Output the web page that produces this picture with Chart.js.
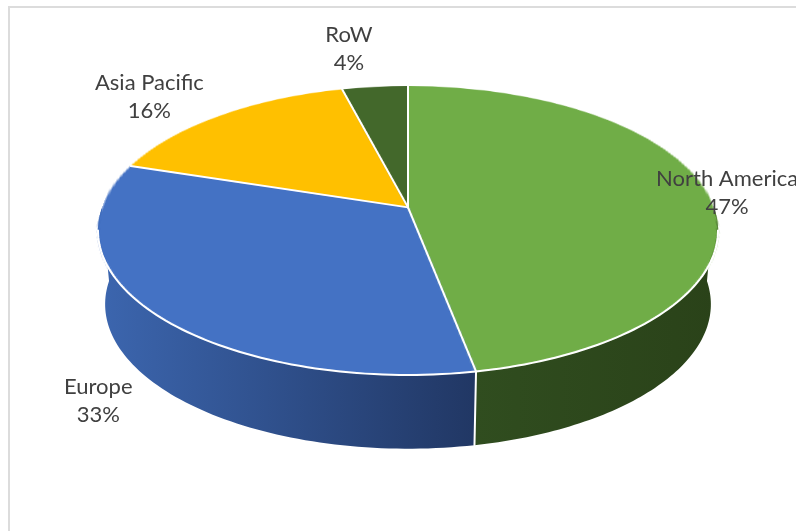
<!DOCTYPE html>
<html>
<head>
<meta charset="utf-8">
<script src="https://cdn.jsdelivr.net/npm/chart.js@4"></script>
<style>
  html, body { margin: 0; padding: 0; background: #fff; overflow: hidden; }
  #frame {
    position: absolute; left: 8px; top: 6px; width: 900px; height: 700px;
    border-left: 2px solid #dcdcdc; border-top: 2px solid #dcdcdc;
  }
  #wrap { position: absolute; left: 0; top: 0; width: 796px; height: 531px; }
</style>
</head>
<body>
<div id="frame"></div>
<div id="wrap"><canvas id="regionChart" width="796" height="531"></canvas></div>
<script>
// Revenue split by region, drawn as a tilted 3D pie
const regions = ['North America', 'Europe', 'Asia Pacific', 'RoW'];
const shares = [47, 33, 16, 4];
const sliceColors = ['#70AD47', '#4472C4', '#FFC000', '#43682B'];

// Perspective for the tilted disc. The chart area is the bounding box of the
// top face; `tilt` says where the disc centre lands between top and bottom.
function makeView(area, tilt, depth, shrink) {
  const T = area.top, Bt = area.bottom, M = T + tilt * (Bt - T);
  const C = (Bt + T - 2 * M) / (T - Bt);
  const A = M - T + T * C;
  const S = (area.width / 2) * Math.sqrt(1 - C * C);
  const cx = (area.left + area.right) / 2;
  return {
    C, cx, cy: M, S,
    top(a) {
      const v = Math.sin(a), w = 1 + C * v;
      return { x: cx + Math.cos(a) * S / w, y: (A * v + M) / w };
    },
    bottom(a) {
      const p = this.top(a);
      return { x: cx + (p.x - cx) * shrink, y: p.y + depth };
    },
    rowToV(y) { return (y - M) / (A - C * y); },
    rowHalf(v) { return S / (1 + C * v); }
  };
}

// Chart.js draws a flat pie; this re-projects it row by row, adds the side
// walls, the white seams and the data labels.
const tiltedPie = {
  id: 'tiltedPie',
  afterDatasetsDraw(chart, args, opts) {
    const ctx = chart.ctx, area = chart.chartArea;
    const arcs = chart.getDatasetMeta(0).data;
    const { x: ox, y: oy, outerRadius: R } = arcs[0];
    const view = makeView(area, opts.tilt, area.height * opts.depth, opts.shrink);
    chart.$view = view;

    const snap = document.createElement('canvas');
    snap.width = chart.canvas.width;
    snap.height = chart.canvas.height;
    snap.getContext('2d').drawImage(chart.canvas, 0, 0);
    ctx.clearRect(0, 0, chart.width, chart.height);

    // side walls (front half only)
    arcs.forEach((arc, i) => {
      const a1 = Math.max(arc.startAngle, 0), a2 = Math.min(arc.endAngle, Math.PI);
      if (a2 <= a1) return;
      const n = 80, pts = [];
      for (let k = 0; k <= n; k++) pts.push(view.top(a1 + (a2 - a1) * k / n));
      for (let k = n; k >= 0; k--) pts.push(view.bottom(a1 + (a2 - a1) * k / n));
      const xs = pts.map(p => p.x);
      const g = ctx.createLinearGradient(Math.min(...xs), 0, Math.max(...xs), 0);
      g.addColorStop(0, opts.walls[i][0]);
      g.addColorStop(1, opts.walls[i][1]);
      ctx.beginPath();
      pts.forEach((p, k) => k ? ctx.lineTo(p.x, p.y) : ctx.moveTo(p.x, p.y));
      ctx.closePath();
      ctx.fillStyle = g;
      ctx.fill();
    });

    // top face: one source row per screen row
    for (let y = Math.floor(area.top); y < Math.ceil(area.bottom); y++) {
      const v = view.rowToV(y + 0.5);
      if (v <= -1 || v >= 1) continue;
      const half = view.rowHalf(v);
      ctx.drawImage(snap, ox - R, oy + v * R - 0.5, 2 * R, 1, view.cx - half, y, 2 * half, 1);
    }

    // white seams
    ctx.save();
    ctx.strokeStyle = '#fff';
    ctx.lineWidth = opts.lineWidth;
    ctx.lineCap = 'round';
    arcs.forEach(arc => {
      const a = arc.startAngle, p = view.top(a);
      ctx.beginPath();
      ctx.moveTo(view.cx, view.cy);
      ctx.lineTo(p.x, p.y);
      if (a > 0 && a < Math.PI) {
        const q = view.bottom(a);
        ctx.lineTo(q.x, q.y);
      }
      ctx.stroke();
    });
    const s = Math.asin(-view.C);
    ctx.beginPath();
    for (let k = 0; k <= 120; k++) {
      const p = view.top(s + (Math.PI - 2 * s) * k / 120);
      k ? ctx.lineTo(p.x, p.y) : ctx.moveTo(p.x, p.y);
    }
    ctx.stroke();
    ctx.restore();
  },
  afterDraw(chart, args, opts) {
    const view = chart.$view;
    if (!view) return;
    const ctx = chart.ctx;
    const arcs = chart.getDatasetMeta(0).data;
    const values = chart.data.datasets[0].data;
    const total = values.reduce((a, b) => a + b, 0);
    ctx.save();
    ctx.font = opts.font;
    ctx.fillStyle = opts.color;
    ctx.textAlign = 'center';
    ctx.textBaseline = 'alphabetic';
    arcs.forEach((arc, i) => {
      const p = view.top((arc.startAngle + arc.endAngle) / 2);
      const [dx, dy] = opts.labelShift[i];
      const x = p.x + dx, y = p.y + dy;
      ctx.fillText(chart.data.labels[i], x, y - 6);
      ctx.fillText(Math.round(values[i] / total * 100) + '%', x, y + 22);
    });
    ctx.restore();
  }
};

new Chart(document.getElementById('regionChart'), {
  type: 'pie',
  data: {
    labels: regions,
    datasets: [{ data: shares, backgroundColor: sliceColors, borderWidth: 0 }]
  },
  options: {
    responsive: false,
    animation: false,
    events: [],
    layout: { padding: { left: 98, right: 78, top: 86, bottom: 156 } },
    plugins: {
      legend: { display: false },
      tooltip: { enabled: false },
      tiltedPie: {
        tilt: 0.42,
        depth: 0.255,
        shrink: 0.977,
        lineWidth: 2,
        walls: [
          ['#304D1F', '#2A4219'],
          ['#3C66AF', '#213764'],
          ['#B58A00', '#8A6900'],
          ['#2F4A1E', '#263C18']
        ],
        font: '22px Lato',
        color: '#404040',
        labelShift: [[19, -2], [-53, 88], [-71, -19], [-26, -39]]
      }
    }
  },
  plugins: [tiltedPie]
});
</script>
</body>
</html>
